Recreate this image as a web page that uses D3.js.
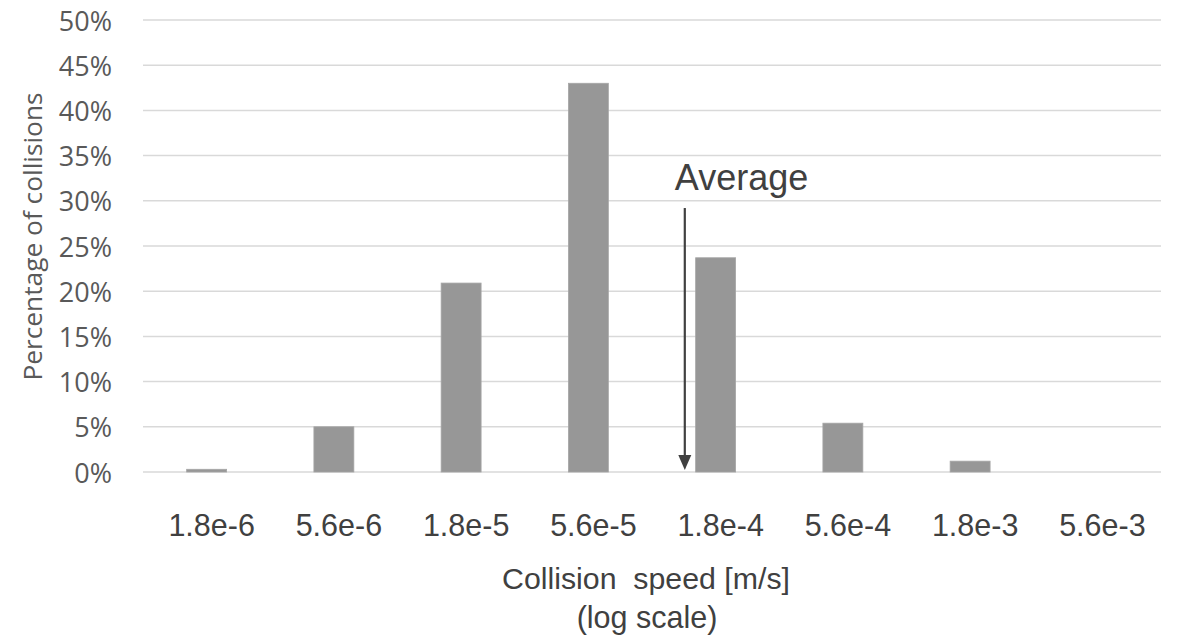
<!DOCTYPE html>
<html>
<head>
<meta charset="utf-8">
<script src="https://cdn.jsdelivr.net/npm/d3@7"></script>
<style>
  html, body { margin: 0; padding: 0; background: #ffffff; }
  svg { display: block; }
</style>
</head>
<body>
<svg id="chart" width="1180" height="638"></svg>
<script>
// ---- data ----
const categories = ["1.8e-6", "5.6e-6", "1.8e-5", "5.6e-5", "1.8e-4", "5.6e-4", "1.8e-3", "5.6e-3"];
const speeds = [1.8e-6, 5.6e-6, 1.8e-5, 5.6e-5, 1.8e-4, 5.6e-4, 1.8e-3, 5.6e-3];
const percentages = [0.3, 5.0, 20.9, 43.0, 23.7, 5.4, 1.2, 0.0];
const yTicks = [0, 5, 10, 15, 20, 25, 30, 35, 40, 45, 50];
const averageSpeed = 1.35e-4;
const averageLabel = "Average";
const arrowTopValue = 29.2;

// ---- layout ----
const svg = d3.select("#chart");
const plotLeft = 143, plotRight = 1161, plotTop = 20, plotBottom = 472;

const x = d3.scaleBand().domain(categories).range([plotLeft, plotRight]).paddingInner(0.686).paddingOuter(0.343);
const y = d3.scaleLinear().domain([0, 50]).range([plotBottom, plotTop]);
const xc = c => x(c) + x.bandwidth() / 2;
const xLog = d3.scaleLog().domain([speeds[0], speeds[speeds.length - 1]])
  .range([xc(categories[0]), xc(categories[categories.length - 1])]);

// gridlines
svg.append("g").selectAll("line").data(yTicks).join("line")
  .attr("x1", plotLeft).attr("x2", plotRight)
  .attr("y1", d => y(d)).attr("y2", d => y(d))
  .attr("stroke", "#d9d9d9").attr("stroke-width", 1.5);

// y tick labels
svg.append("g").selectAll("text").data(yTicks).join("text")
  .attr("x", 112).attr("y", d => y(d))
  .attr("text-anchor", "end").attr("dominant-baseline", "central")
  .attr("font-family", "'Open Sans', sans-serif").attr("font-size", 27)
  .attr("fill", "#595959")
  .text(d => d + "%");

// y title
svg.append("text")
  .attr("transform", "translate(42,236.5) rotate(-90)")
  .attr("text-anchor", "middle")
  .attr("font-family", "'Open Sans', sans-serif").attr("font-size", 26.3)
  .attr("fill", "#595959")
  .text("Percentage of collisions");

// bars
svg.append("g").selectAll("rect").data(percentages).join("rect")
  .attr("x", (d, i) => x(categories[i]))
  .attr("width", x.bandwidth())
  .attr("y", d => y(d))
  .attr("height", d => y(0) - y(d))
  .attr("fill", "#979797")
  .attr("stroke", "#a6a6a6").attr("stroke-width", 0.8);

// x labels
svg.append("g").selectAll("text").data(categories).join("text")
  .attr("x", d => xc(d) + 5).attr("y", 536)
  .attr("text-anchor", "middle")
  .attr("font-family", "'Liberation Sans', Arial, sans-serif").attr("font-size", 30.5)
  .attr("fill", "#404040")
  .text(d => d);

// x title
svg.append("text")
  .attr("x", 646).attr("y", 589)
  .attr("text-anchor", "middle")
  .attr("font-family", "'Liberation Sans', Arial, sans-serif").attr("font-size", 30.3)
  .attr("fill", "#404040")
  .style("white-space", "pre")
  .text("Collision  speed [m/s]");
svg.append("text")
  .attr("x", 647).attr("y", 628)
  .attr("text-anchor", "middle")
  .attr("font-family", "'Liberation Sans', Arial, sans-serif").attr("font-size", 30.5)
  .attr("fill", "#404040")
  .text("(log scale)");

// average arrow
const ax = xLog(averageSpeed);
const tipY = y(0) - 2;
svg.append("line")
  .attr("x1", ax).attr("x2", ax)
  .attr("y1", y(arrowTopValue)).attr("y2", tipY - 12)
  .attr("stroke", "#404040").attr("stroke-width", 2.2);
svg.append("path")
  .attr("d", `M${ax - 6.5},${tipY - 15} L${ax + 6.5},${tipY - 15} L${ax},${tipY} Z`)
  .attr("fill", "#404040");
svg.append("text")
  .attr("x", ax - 10).attr("y", 190)
  .attr("font-family", "'Liberation Sans', Arial, sans-serif").attr("font-size", 36)
  .attr("fill", "#404040")
  .text(averageLabel);
</script>
</body>
</html>
